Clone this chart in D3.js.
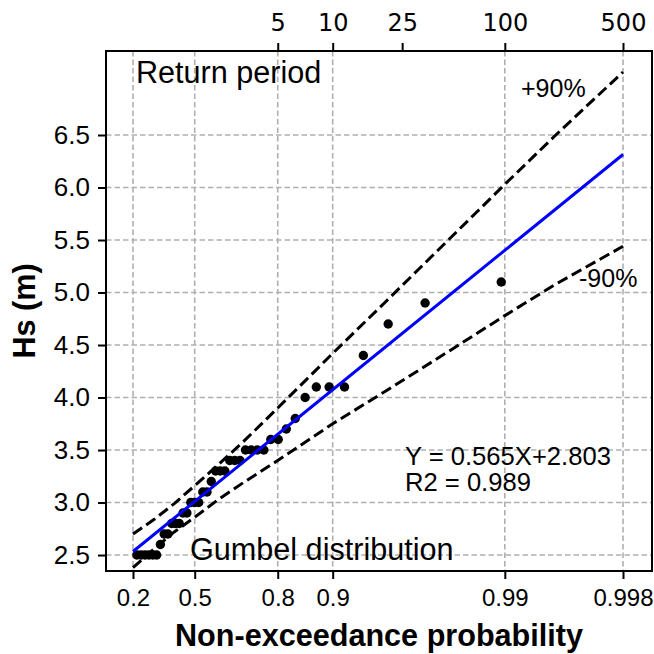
<!DOCTYPE html>
<html>
<head>
<meta charset="utf-8">
<script src="https://cdn.jsdelivr.net/npm/d3@7"></script>
<style>
  html, body { margin: 0; padding: 0; background: #fff; }
  svg { display: block; }
</style>
</head>
<body>
<svg id="chart" width="654" height="654"></svg>
<script>
// ---- data ----
const probTicks = [0.2, 0.5, 0.8, 0.9, 0.99, 0.998];
const probTickLabels = ["0.2", "0.5", "0.8", "0.9", "0.99", "0.998"];
const returnPeriods = [5, 10, 25, 100, 500];
const hsTicks = [2.5, 3.0, 3.5, 4.0, 4.5, 5.0, 5.5, 6.0, 6.5];

// plotting positions (non-exceedance probability) of the observed points
const obsProb = [0.2176, 0.2365, 0.2553, 0.2741, 0.2929, 0.3118, 0.3306, 0.3494,
  0.3682, 0.3871, 0.4059, 0.4247, 0.4435, 0.4624, 0.4812, 0.5000, 0.5188, 0.5377,
  0.5565, 0.5753, 0.5941, 0.6130, 0.6318, 0.6506, 0.6694, 0.6883, 0.7071, 0.7259,
  0.7447, 0.7636, 0.7824, 0.8012, 0.8200, 0.8389, 0.8577, 0.8765, 0.8953, 0.9142,
  0.9330, 0.9518, 0.9706, 0.9895];
// observed Hs (m)
const obsHs = [2.5, 2.5, 2.5, 2.5, 2.5, 2.5, 2.6, 2.7,
  2.7, 2.8, 2.8, 2.8, 2.9, 2.9, 3.0, 3.0, 3.0, 3.1,
  3.1, 3.2, 3.3, 3.3, 3.3, 3.4, 3.4, 3.4, 3.5, 3.5,
  3.5, 3.5, 3.6, 3.6, 3.7, 3.8, 4.0, 4.1, 4.1, 4.1,
  4.4, 4.7, 4.9, 5.1];

// fitted Gumbel line (Y = 0.565X + 2.803)
const fitProb = [0.2, 0.998];
const fitHs = [2.534, 6.314];

// 90% confidence bounds
const bandProb = [0.2, 0.3, 0.4, 0.5, 0.6, 0.7, 0.8, 0.9, 0.95, 0.98, 0.99, 0.995, 0.998];
const bandUpper = [2.70, 2.84, 2.99, 3.16, 3.35, 3.58, 3.90, 4.42, 4.91, 5.55, 6.03, 6.50, 7.10];
const bandLower = [2.38, 2.56, 2.72, 2.86, 3.02, 3.19, 3.40, 3.75, 4.06, 4.47, 4.78, 5.08, 5.44];

// ---- layout ----
const L = 106, R = 652, T = 51, B = 571;
const svg = d3.select("#chart");
const gumbel = p => -Math.log(-Math.log(p));

const x = d3.scaleLinear().domain([-0.8445, 6.6095]).range([L, R]);
const y = d3.scaleLinear().domain([2.348, 7.300]).range([B, T]);
const px = p => x(gumbel(p));

const sans = "'Liberation Sans', Arial, sans-serif";

// clip
svg.append("defs").append("clipPath").attr("id", "clip")
  .append("rect").attr("x", L).attr("y", T).attr("width", R - L).attr("height", B - T);

// grid
const grid = svg.append("g").attr("clip-path", "url(#clip)");
grid.selectAll(".gx").data(probTicks).enter().append("line")
  .attr("x1", d => px(d)).attr("x2", d => px(d)).attr("y1", T).attr("y2", B)
  .attr("stroke", "#b0b0b0").attr("stroke-width", 1.6).attr("stroke-dasharray", "5.5,3");
grid.selectAll(".gy").data(hsTicks).enter().append("line")
  .attr("y1", d => y(d)).attr("y2", d => y(d)).attr("x1", L).attr("x2", R)
  .attr("stroke", "#b0b0b0").attr("stroke-width", 1.6).attr("stroke-dasharray", "5.5,3");

const plot = svg.append("g").attr("clip-path", "url(#clip)");

// points
plot.selectAll("circle").data(obsProb.map((p, i) => [p, obsHs[i]])).enter().append("circle")
  .attr("cx", d => px(d[0])).attr("cy", d => y(d[1])).attr("r", 4.7).attr("fill", "#000");

// bounds
const bandLine = arr => d3.line().x((d, i) => px(bandProb[i])).y(d => y(d))(arr);
plot.append("path").attr("d", bandLine(bandUpper)).attr("fill", "none")
  .attr("stroke", "#000").attr("stroke-width", 3).attr("stroke-dasharray", "11,5");
plot.append("path").attr("d", bandLine(bandLower)).attr("fill", "none")
  .attr("stroke", "#000").attr("stroke-width", 3).attr("stroke-dasharray", "11,5");

// fit line
plot.append("path")
  .attr("d", d3.line().x((d, i) => px(fitProb[i])).y(d => y(d))(fitHs))
  .attr("fill", "none").attr("stroke", "#0000ff").attr("stroke-width", 3);

// axes
const xAxis = d3.axisBottom(x).tickValues(probTicks.map(gumbel))
  .tickFormat((d, i) => probTickLabels[i]).tickSize(8).tickPadding(10);
const gx = svg.append("g").attr("transform", `translate(0,${B})`).call(xAxis);

const topAxis = d3.axisTop(x).tickValues(returnPeriods.map(t => gumbel(1 - 1 / t)))
  .tickFormat((d, i) => String(returnPeriods[i])).tickSize(8).tickPadding(12);
const gt = svg.append("g").attr("transform", `translate(0,${T})`).call(topAxis);

const yAxis = d3.axisLeft(y).tickValues(hsTicks).tickFormat(d3.format(".1f")).tickSize(8).tickPadding(8);
const gy = svg.append("g").attr("transform", `translate(${L},0)`).call(yAxis);

[gx, gt, gy].forEach(g => {
  g.select(".domain").remove();
  g.selectAll(".tick line").attr("stroke", "#000").attr("stroke-width", 2);
  g.selectAll(".tick text").attr("fill", "#000").attr("font-size", 26).attr("font-family", sans);
});
gx.selectAll(".tick text").attr("font-size", 24);
gt.selectAll(".tick text").attr("font-family", "'DejaVu Sans', sans-serif").attr("font-size", 24);

// frame
svg.append("rect").attr("x", L).attr("y", T).attr("width", R - L).attr("height", B - T)
  .attr("fill", "none").attr("stroke", "#000").attr("stroke-width", 2);

// labels
svg.append("text").attr("x", (L + R) / 2).attr("y", 646).attr("text-anchor", "middle")
  .attr("font-family", sans).attr("font-weight", "bold").attr("font-size", 30.6)
  .text("Non-exceedance probability");
svg.append("text").attr("transform", `translate(35,${(T + B) / 2}) rotate(-90)`)
  .attr("text-anchor", "middle").attr("font-family", sans).attr("font-weight", "bold")
  .attr("font-size", 30.6).text("Hs (m)");

const ann = (tx, ty, s, fs) => svg.append("text").attr("x", tx).attr("y", ty)
  .attr("font-family", sans).attr("font-size", fs).attr("fill", "#000").text(s);
ann(136, 83, "Return period", 30.6);
ann(190, 560, "Gumbel distribution", 30.6);
ann(521, 97, "+90%", 25);
ann(579, 287, "-90%", 25);
ann(405, 465, "Y = 0.565X+2.803", 25.6);
ann(405, 491, "R2 = 0.989", 25.6);
</script>
</body>
</html>
